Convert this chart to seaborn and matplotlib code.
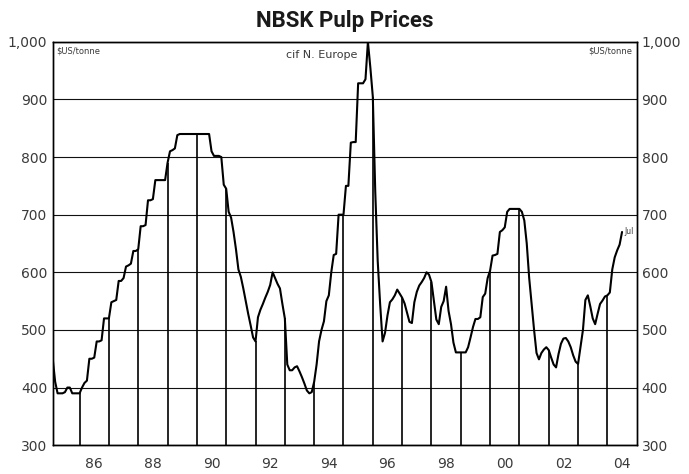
import numpy as np
import pandas as pd
import matplotlib
matplotlib.use("Agg")
import matplotlib.pyplot as plt
import seaborn as sns

# monthly NBSK price, $US/tonne, cif N. Europe (first value is Feb 1985)
start = "1985-02"
p1985 = [450, 410, 390, 390, 390, 392, 400, 400, 390, 390, 390]
p1986 = [390, 400, 408, 412, 450, 450, 452, 480, 480, 482, 520, 520]
p1987 = [520, 548, 550, 552, 585, 585, 590, 610, 612, 615, 637, 637]
p1988 = [640, 680, 680, 682, 725, 725, 727, 760, 760, 760, 760, 760]
p1989 = [790, 810, 812, 815, 838, 840, 840, 840, 840, 840, 840, 840]
p1990 = [840, 840, 840, 840, 840, 840, 810, 802, 802, 802, 800, 752]
p1991 = [745, 705, 695, 670, 640, 605, 592, 572, 550, 528, 508, 487]
p1992 = [480, 522, 535, 545, 556, 566, 578, 600, 590, 580, 572, 545]
p1993 = [520, 440, 430, 430, 435, 437, 428, 418, 407, 395, 390, 392]
p1994 = [410, 440, 480, 500, 515, 550, 560, 600, 630, 632, 700, 700]
p1995 = [700, 750, 750, 825, 826, 826, 928, 928, 928, 935, 1000, 955]
p1996 = [905, 740, 620, 545, 480, 495, 525, 548, 553, 560, 570, 563]
p1997 = [556, 546, 530, 514, 512, 548, 566, 577, 583, 590, 600, 596]
p1998 = [583, 550, 518, 510, 540, 550, 575, 533, 510, 478, 461, 461]
p1999 = [461, 461, 461, 470, 487, 505, 519, 519, 522, 557, 563, 590]
p2000 = [603, 629, 630, 632, 670, 673, 678, 705, 710, 710, 710, 710]
p2001 = [710, 705, 690, 650, 590, 545, 500, 460, 449, 460, 466, 470]
p2002 = [465, 452, 440, 435, 458, 476, 485, 486, 480, 470, 456, 445]
p2003 = [441, 470, 500, 552, 560, 541, 520, 510, 528, 545, 551, 558]
p2004 = [560, 565, 605, 626, 638, 648, 670]

prices = (p1985 + p1986 + p1987 + p1988 + p1989 + p1990 + p1991 + p1992
          + p1993 + p1994 + p1995 + p1996 + p1997 + p1998 + p1999 + p2000
          + p2001 + p2002 + p2003 + p2004)

y_ticks = [300, 400, 500, 600, 700, 800, 900, 1000]
y_labels = ["300", "400", "500", "600", "700", "800", "900", "1,000"]
x_years = [1986, 1988, 1990, 1992, 1994, 1996, 1998, 2000, 2002, 2004]
x_labels = ["86", "88", "90", "92", "94", "96", "98", "00", "02", "04"]

dates = pd.date_range(start, periods=len(prices), freq="MS")
df = pd.DataFrame({
    "year": dates.year + (dates.month - 1) / 12,
    "month": dates.month,
    "price": prices,
})
jan = df[df["month"] == 1]

sns.set_style("white")
plt.rcParams["font.family"] = ["DejaVu Sans"]
txt = "#3a3a3a"

fig = plt.figure(figsize=(6.89, 4.74), dpi=100)
ax = fig.add_axes([0.0765, 0.0608, 0.8476, 0.851])

ax.vlines(jan["year"], 300, jan["price"], color="black", lw=1.2, zorder=2)
sns.lineplot(data=df, x="year", y="price", color="black", lw=1.5, ax=ax, zorder=3)

ax.set_xlim(df["year"].iloc[0], 2005.0)
ax.set_ylim(300, 1000)
ax.set_yticks(y_ticks)
ax.set_yticklabels(y_labels)
ax.set_xticks([y + 0.5 for y in x_years])
ax.set_xticklabels(x_labels)
ax.set_xlabel("")
ax.set_ylabel("")
ax.yaxis.grid(True, color="#111111", lw=0.8)
ax.xaxis.grid(False)
ax.set_axisbelow(True)
ax.tick_params(axis="y", length=0, labelsize=10, colors=txt, pad=4)
ax.tick_params(axis="x", length=0, labelsize=10, colors=txt, pad=8.5)
for s in ax.spines.values():
    s.set_color("black")
    s.set_linewidth(1.0)

ax2 = ax.twinx()
ax2.set_ylim(300, 1000)
ax2.set_yticks(y_ticks)
ax2.set_yticklabels(y_labels)
ax2.tick_params(length=0, labelsize=10, colors=txt, pad=3.5)
ax2.grid(False)
for s in ax2.spines.values():
    s.set_color("black")
    s.set_linewidth(1.0)

ax.set_title("NBSK Pulp Prices", fontsize=16, fontweight="bold", pad=11,
             family=["Roboto", "DejaVu Sans"], color="#1a1a1a")

ax.text(0.006, 0.988, r"\$US/tonne", transform=ax.transAxes, fontsize=6,
        ha="left", va="top", color=txt)
ax.text(0.993, 0.988, r"\$US/tonne", transform=ax.transAxes, fontsize=6,
        ha="right", va="top", color=txt)
ax.text(0.461, 0.967, "cif N. Europe", transform=ax.transAxes, fontsize=8,
        ha="center", va="center", color=txt)
last = df.iloc[-1]
ax.annotate("Jul", (last["year"], last["price"]), xytext=(2, 0),
            textcoords="offset points", fontsize=5.5, va="center", color=txt)

fig.savefig("out.png", dpi=100)
